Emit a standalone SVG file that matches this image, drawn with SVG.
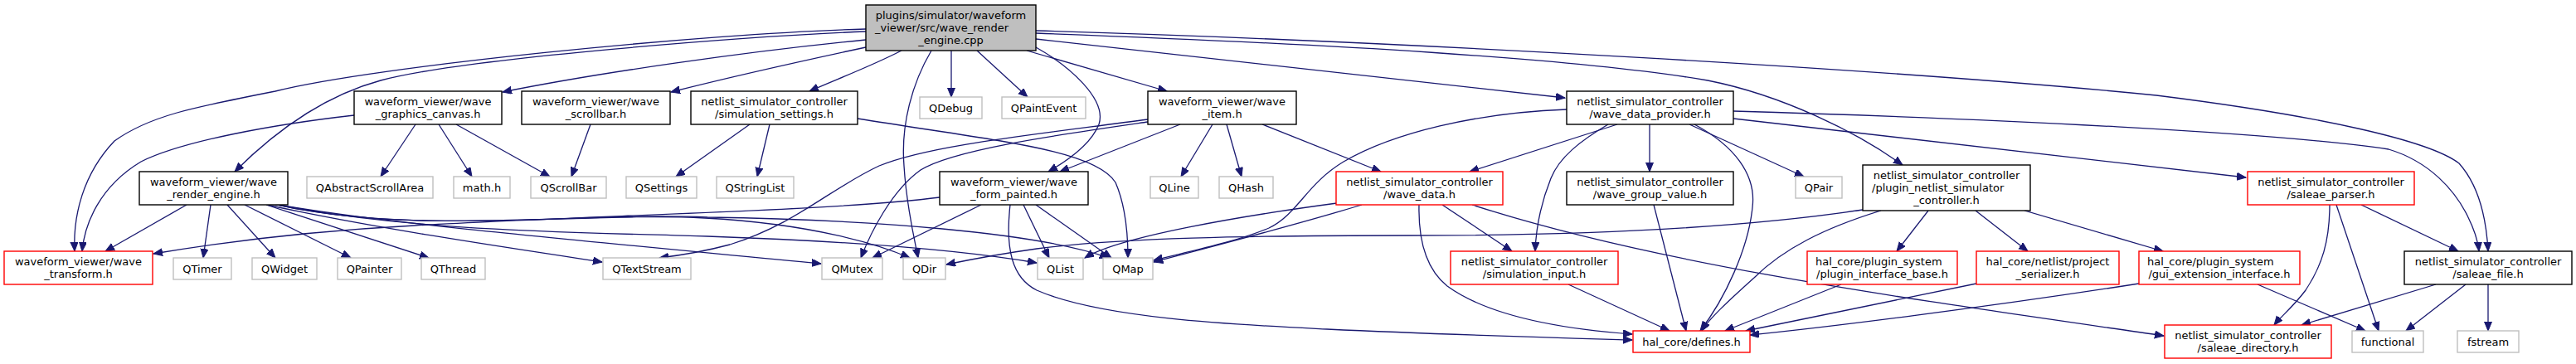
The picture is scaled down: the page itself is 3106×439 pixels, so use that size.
<svg xmlns="http://www.w3.org/2000/svg" width="3106" height="439" viewBox="0 0 3106 439">
<defs>
<style>
.n rect{fill:#ffffff;stroke:#000000;stroke-width:1.4}
.n.r rect{stroke:#ff0000}
.n.g rect{stroke:#bfbfbf}
.n.root rect{fill:#bfbfbf}
text{font-family:"DejaVu Sans","Liberation Sans",sans-serif;font-size:13px;fill:#000000;text-anchor:middle}
text.s{text-anchor:start}
#edges path{fill:none;stroke:#191970;stroke-width:1.3;marker-end:url(#a)}
</style>
<marker id="a" markerWidth="13" markerHeight="11" refX="11" refY="4.5" orient="auto" markerUnits="userSpaceOnUse"><path d="M0,0 L11,4.5 L0,9 z" fill="#191970" stroke="#191970" stroke-width="1"/></marker>
</defs>
<rect x="0" y="0" width="3106" height="439" fill="#ffffff"/>
<g id="edges">
<path d="M1044,48 C900,62 720,88 606,111"/>
<path d="M1044,57 C960,75 880,93 809,111"/>
<path d="M1044,38 C900,44 560,70 459,97 C400,113 340,150 283,207"/>
<path d="M1044,35 C850,40 450,80 332,110 C230,130 180,140 138,170 C100,210 88,260 90,303"/>
<path d="M427,139 C330,150 220,170 170,195 C120,225 102,270 99,303"/>
<path d="M1087,61 C1050,80 1010,95 976,110"/>
<path d="M1123,61 C1100,100 1086,150 1090,200 C1093,250 1103,290 1107,311"/>
<path d="M1147,61 L1147,117"/>
<path d="M1178,61 L1239,117"/>
<path d="M1249,57 C1290,80 1335,120 1325,150 C1315,175 1285,195 1264,207"/>
<path d="M1238,61 L1407,110"/>
<path d="M1249,47 L1887,118"/>
<path d="M1249,40 C1600,53 1900,70 2059,97 C2150,115 2240,160 2294,199"/>
<path d="M1249,37 C1700,50 2300,85 2600,115 C2800,140 2930,170 2965,197 C2990,225 2998,265 3000,303"/>
<path d="M2090,134 C2400,143 2750,160 2880,180 C2930,195 2960,230 2975,260 C2985,280 2988,292 2989,303"/>
<path d="M2090,143 L2708,214"/>
<path d="M1950,150 L1772,207"/>
<path d="M1989,150 L1989,207"/>
<path d="M2037,150 L2175,213"/>
<path d="M2043,150 C2090,175 2118,210 2113,250 C2108,300 2080,360 2050,399"/>
<path d="M1939,150 C1905,170 1880,190 1870,215 C1858,245 1852,275 1851,303"/>
<path d="M1889,132 C1780,136 1680,160 1620,195 C1575,222 1565,258 1530,275 C1490,292 1430,304 1391,314"/>
<path d="M1423,150 L1278,207"/>
<path d="M1462,150 L1424,213"/>
<path d="M1479,150 L1497,213"/>
<path d="M1522,150 L1665,207"/>
<path d="M1384,147 C1280,162 1150,180 1110,205 C1075,230 1050,280 1038,311"/>
<path d="M1384,144 C1250,162 1120,175 1060,200 C1000,228 960,270 880,295 C850,303 820,308 795,311"/>
<path d="M904,150 L815,213"/>
<path d="M928,150 L913,213"/>
<path d="M1034,143 C1200,170 1320,180 1345,220 C1358,250 1360,285 1360,311"/>
<path d="M501,150 L459,213"/>
<path d="M529,150 L569,213"/>
<path d="M550,150 L663,213"/>
<path d="M712,150 L689,213"/>
<path d="M225,247 L127,303"/>
<path d="M254,247 L245,311"/>
<path d="M274,247 L332,311"/>
<path d="M295,247 L423,311"/>
<path d="M321,247 L517,311"/>
<path d="M322,247 C450,275 620,300 726,316"/>
<path d="M330,246 C450,268 700,290 990,318"/>
<path d="M330,246 C500,285 700,255 850,263 C980,270 1060,295 1097,311"/>
<path d="M330,246 C500,280 700,280 853,285 C1000,290 1150,300 1250,317"/>
<path d="M330,246 C500,285 700,255 853,262 C1050,265 1250,280 1337,311"/>
<path d="M1133,238 C1000,255 700,260 500,272 C350,280 250,295 185,306"/>
<path d="M1183,247 L1052,311"/>
<path d="M1234,247 L1265,311"/>
<path d="M1249,247 L1340,311"/>
<path d="M1218,247 C1212,300 1220,335 1250,350 C1330,385 1500,392 1600,397 C1750,404 1900,408 1968,410"/>
<path d="M1739,247 L1823,303"/>
<path d="M1711,247 C1710,290 1720,325 1745,345 C1800,385 1900,398 1968,403"/>
<path d="M1775,247 C2000,320 2300,360 2609,405"/>
<path d="M1612,245 C1500,260 1350,285 1308,311"/>
<path d="M1642,247 C1550,275 1450,300 1391,316"/>
<path d="M2246,253 C2100,275 1900,284 1700,284 C1500,284 1350,287 1250,300 C1200,307 1170,313 1141,319"/>
<path d="M2268,254 C2200,275 2150,300 2115,335 C2085,362 2060,385 2052,399"/>
<path d="M2325,254 L2287,303"/>
<path d="M2382,254 L2445,303"/>
<path d="M2441,254 L2608,303"/>
<path d="M2220,343 L2080,399"/>
<path d="M2383,342 L2105,399"/>
<path d="M2579,342 C2400,370 2200,395 2110,404"/>
<path d="M2722,343 L2852,399"/>
<path d="M1891,343 L2013,399"/>
<path d="M1994,247 L2033,399"/>
<path d="M2847,247 L2964,303"/>
<path d="M2809,247 C2809,290 2800,320 2780,350 C2765,370 2750,382 2742,392"/>
<path d="M2817,247 L2868,399"/>
<path d="M2937,343 L2775,392"/>
<path d="M2973,343 L2901,399"/>
<path d="M3000,343 L3000,399"/>
</g>
<g id="root" class="n root"><rect x="1044" y="6" width="205" height="55"/><text x="1146.5" y="22.5">plugins/simulator/waveform</text><text class="s" x="1055" y="37.5">_viewer/src/wave_render</text><text x="1146.5" y="52.5">_engine.cpp</text></g>
<g id="graphics_canvas" class="n"><rect x="427" y="110" width="178" height="40"/><text x="516" y="126.5">waveform_viewer/wave</text><text x="516" y="141.5">_graphics_canvas.h</text></g>
<g id="scrollbar" class="n"><rect x="629" y="110" width="179" height="40"/><text x="718.5" y="126.5">waveform_viewer/wave</text><text x="718.5" y="141.5">_scrollbar.h</text></g>
<g id="simulation_settings" class="n"><rect x="833" y="110" width="201" height="40"/><text x="933.5" y="126.5">netlist_simulator_controller</text><text x="933.5" y="141.5">/simulation_settings.h</text></g>
<g id="QDebug" class="n g"><rect x="1109" y="117" width="75" height="26"/><text x="1146.5" y="134.5">QDebug</text></g>
<g id="QPaintEvent" class="n g"><rect x="1208" y="117" width="101" height="26"/><text x="1258.5" y="134.5">QPaintEvent</text></g>
<g id="wave_item" class="n"><rect x="1384" y="110" width="179" height="40"/><text x="1473.5" y="126.5">waveform_viewer/wave</text><text x="1473.5" y="141.5">_item.h</text></g>
<g id="wave_data_provider" class="n"><rect x="1889" y="110" width="201" height="40"/><text x="1989.5" y="126.5">netlist_simulator_controller</text><text x="1989.5" y="141.5">/wave_data_provider.h</text></g>
<g id="render_engine" class="n"><rect x="168" y="207" width="179" height="40"/><text x="257.5" y="223.5">waveform_viewer/wave</text><text x="257.5" y="238.5">_render_engine.h</text></g>
<g id="QAbstractScrollArea" class="n g"><rect x="370" y="213" width="152" height="26"/><text x="446" y="230.5">QAbstractScrollArea</text></g>
<g id="math_h" class="n g"><rect x="547" y="213" width="68" height="26"/><text x="581" y="230.5">math.h</text></g>
<g id="QScrollBar" class="n g"><rect x="640" y="213" width="91" height="26"/><text x="685.5" y="230.5">QScrollBar</text></g>
<g id="QSettings" class="n g"><rect x="755" y="213" width="85" height="26"/><text x="797.5" y="230.5">QSettings</text></g>
<g id="QStringList" class="n g"><rect x="864" y="213" width="93" height="26"/><text x="910.5" y="230.5">QStringList</text></g>
<g id="wave_form_painted" class="n"><rect x="1133" y="207" width="179" height="40"/><text x="1222.5" y="223.5">waveform_viewer/wave</text><text x="1222.5" y="238.5">_form_painted.h</text></g>
<g id="QLine" class="n g"><rect x="1387" y="213" width="58" height="26"/><text x="1416" y="230.5">QLine</text></g>
<g id="QHash" class="n g"><rect x="1470" y="213" width="65" height="26"/><text x="1502.5" y="230.5">QHash</text></g>
<g id="wave_data" class="n r"><rect x="1611" y="207" width="201" height="40"/><text x="1711.5" y="223.5">netlist_simulator_controller</text><text x="1711.5" y="238.5">/wave_data.h</text></g>
<g id="wave_group_value" class="n"><rect x="1889" y="207" width="201" height="40"/><text x="1989.5" y="223.5">netlist_simulator_controller</text><text x="1989.5" y="238.5">/wave_group_value.h</text></g>
<g id="QPair" class="n g"><rect x="2165" y="213" width="56" height="26"/><text x="2193" y="230.5">QPair</text></g>
<g id="plugin_netlist_simulator_controller" class="n"><rect x="2246" y="199" width="202" height="55"/><text x="2347" y="215.5">netlist_simulator_controller</text><text class="s" x="2257" y="230.5">/plugin_netlist_simulator</text><text x="2347" y="245.5">_controller.h</text></g>
<g id="saleae_parser" class="n r"><rect x="2710" y="207" width="201" height="40"/><text x="2810.5" y="223.5">netlist_simulator_controller</text><text x="2810.5" y="238.5">/saleae_parser.h</text></g>
<g id="wave_transform" class="n r"><rect x="5" y="303" width="179" height="40"/><text x="94.5" y="319.5">waveform_viewer/wave</text><text x="94.5" y="334.5">_transform.h</text></g>
<g id="QTimer" class="n g"><rect x="209" y="311" width="70" height="26"/><text x="244" y="328.5">QTimer</text></g>
<g id="QWidget" class="n g"><rect x="304" y="311" width="78" height="26"/><text x="343" y="328.5">QWidget</text></g>
<g id="QPainter" class="n g"><rect x="407" y="311" width="77" height="26"/><text x="445.5" y="328.5">QPainter</text></g>
<g id="QThread" class="n g"><rect x="508" y="311" width="77" height="26"/><text x="546.5" y="328.5">QThread</text></g>
<g id="QTextStream" class="n g"><rect x="727" y="311" width="106" height="26"/><text x="780" y="328.5">QTextStream</text></g>
<g id="QMutex" class="n g"><rect x="991" y="311" width="73" height="26"/><text x="1027.5" y="328.5">QMutex</text></g>
<g id="QDir" class="n g"><rect x="1089" y="311" width="51" height="26"/><text x="1114.5" y="328.5">QDir</text></g>
<g id="QList" class="n g"><rect x="1251" y="311" width="55" height="26"/><text x="1278.5" y="328.5">QList</text></g>
<g id="QMap" class="n g"><rect x="1330" y="311" width="60" height="26"/><text x="1360" y="328.5">QMap</text></g>
<g id="simulation_input" class="n r"><rect x="1749" y="303" width="202" height="40"/><text x="1850" y="319.5">netlist_simulator_controller</text><text x="1850" y="334.5">/simulation_input.h</text></g>
<g id="plugin_interface_base" class="n r"><rect x="2179" y="303" width="181" height="40"/><text class="s" x="2189" y="319.5">hal_core/plugin_system</text><text x="2269.5" y="334.5">/plugin_interface_base.h</text></g>
<g id="project_serializer" class="n r"><rect x="2383" y="303" width="172" height="40"/><text x="2469" y="319.5">hal_core/netlist/project</text><text x="2469" y="334.5">_serializer.h</text></g>
<g id="gui_extension_interface" class="n r"><rect x="2579" y="303" width="194" height="40"/><text class="s" x="2589" y="319.5">hal_core/plugin_system</text><text x="2676" y="334.5">/gui_extension_interface.h</text></g>
<g id="saleae_file" class="n"><rect x="2899" y="303" width="202" height="40"/><text x="3000" y="319.5">netlist_simulator_controller</text><text x="3000" y="334.5">/saleae_file.h</text></g>
<g id="defines" class="n r"><rect x="1969" y="399" width="141" height="26"/><text x="2039.5" y="416.5">hal_core/defines.h</text></g>
<g id="saleae_directory" class="n r"><rect x="2610" y="392" width="201" height="40"/><text x="2710.5" y="408.5">netlist_simulator_controller</text><text x="2710.5" y="423.5">/saleae_directory.h</text></g>
<g id="functional" class="n g"><rect x="2836" y="399" width="86" height="26"/><text x="2879" y="416.5">functional</text></g>
<g id="fstream" class="n g"><rect x="2963" y="399" width="74" height="26"/><text x="3000" y="416.5">fstream</text></g>
</svg>
